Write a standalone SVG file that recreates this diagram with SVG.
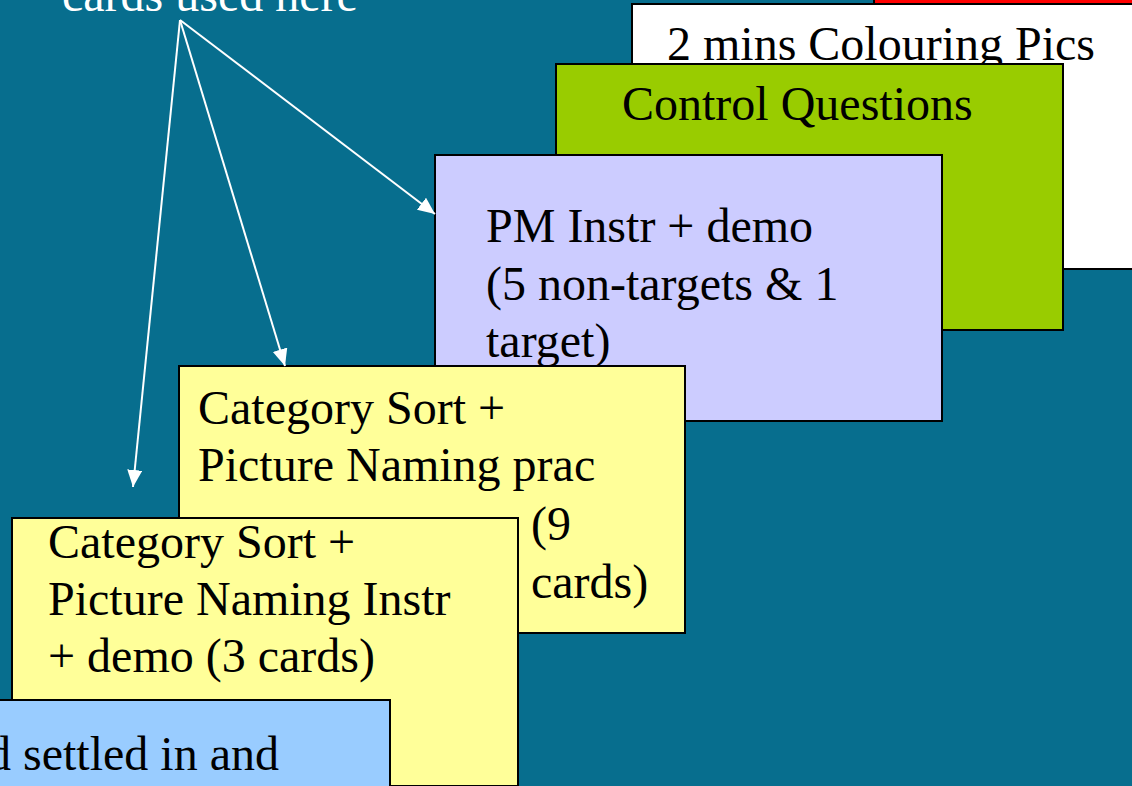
<svg xmlns="http://www.w3.org/2000/svg" width="1132" height="786" viewBox="0 0 1132 786">
  <style>
    .card { stroke: #000000; stroke-width: 2; }
    .label { font-family: "Liberation Serif", "Times New Roman", serif; font-size: 48px; fill: #000000; }
    .note { font-family: "Liberation Serif", "Times New Roman", serif; font-size: 48px; fill: #ffffff; }
    .pointer { stroke: #ffffff; stroke-width: 2; fill: none; marker-end: url(#head); }
  </style>
  <defs>
    <marker id="head" markerUnits="userSpaceOnUse" markerWidth="18" markerHeight="16" refX="17" refY="7.5" orient="auto">
      <path d="M0,0 L17,7.5 L0,15 Z" fill="#ffffff"/>
    </marker>
  </defs>

  <!-- backdrop -->
  <rect x="0" y="0" width="1132" height="786" fill="#076e8e"/>

  <!-- stacked cards, furthest first -->
  <g id="card-red">
    <rect class="card" x="874" y="-10" width="270" height="14" fill="#ff0000"/>
  </g>

  <g id="card-colouring">
    <rect class="card" x="632" y="4" width="520" height="265" fill="#ffffff"/>
    <text class="label" x="667" y="60">2 mins Colouring Pics</text>
  </g>

  <g id="card-control">
    <rect class="card" x="556" y="64" width="507" height="266" fill="#99cc00"/>
    <text class="label" x="622" y="120">Control Questions</text>
  </g>

  <g id="card-pm">
    <rect class="card" x="435" y="155" width="507" height="266" fill="#ccccff"/>
    <text class="label" x="486" y="242">PM Instr + demo</text>
    <text class="label" x="486" y="299.5">(5 non-targets &amp; 1</text>
    <text class="label" x="486" y="357">target)</text>
  </g>

  <g id="card-practice">
    <rect class="card" x="179" y="366" width="506" height="267" fill="#ffff99"/>
    <text class="label" x="198" y="424">Category Sort +</text>
    <text class="label" x="198" y="481">Picture Naming prac</text>
    <text class="label" x="531" y="540">(9</text>
    <text class="label" x="531" y="598">cards)</text>
  </g>

  <g id="card-instr">
    <rect class="card" x="12" y="518" width="506" height="268" fill="#ffff99"/>
    <text class="label" x="48" y="558">Category Sort +</text>
    <text class="label" x="48" y="615">Picture Naming Instr</text>
    <text class="label" x="48" y="672">+ demo (3 cards)</text>
  </g>

  <g id="card-settle">
    <rect class="card" x="-10" y="700" width="400" height="100" fill="#99ccff"/>
    <text class="label" x="-13" y="770">d settled in and</text>
  </g>

  <!-- caption above the pointers -->
  <g id="caption">
    <text class="note" x="62" y="11">cards used here</text>
  </g>

  <!-- pointers from the caption to the cards -->
  <g id="connectors">
    <line class="pointer" x1="180" y1="20" x2="133" y2="487"/>
    <line class="pointer" x1="180" y1="20" x2="285" y2="366"/>
    <line class="pointer" x1="180" y1="20" x2="435" y2="214"/>
  </g>
</svg>
